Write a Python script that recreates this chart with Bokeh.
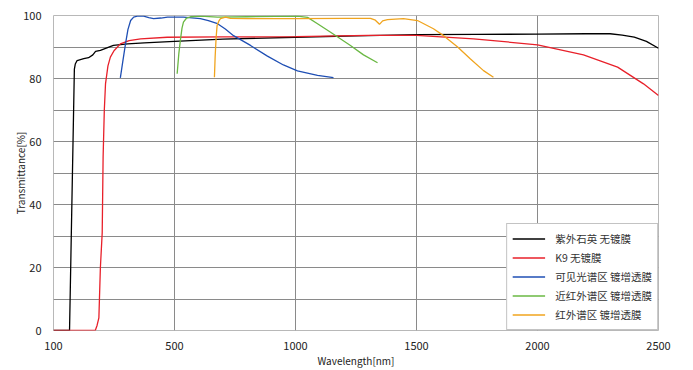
import numpy as np
from bokeh.plotting import figure
from bokeh.models import Range1d, FixedTicker, Legend, LegendItem
from bokeh.embed import file_html
from bokeh.resources import INLINE

FONT = "Noto Sans CJK SC"

x_tick_values = [100, 500, 1000, 1500, 2000, 2500]
x_tick_labels = ["100", "500", "1000", "1500", "2000", "2500"]
y_label_ticks = [0, 20, 40, 60, 80, 100]
y_minor_ticks = [10, 30, 50, 70, 90]

series_names = ["紫外石英 无镀膜", "K9 无镀膜", "可见光谱区 镀增透膜", "近红外谱区 镀增透膜", "红外谱区 镀增透膜"]
series_colors = ["#000000", "#e8202a", "#1f4fb4", "#6ab843", "#f0a41e"]

black_wl = [100, 153, 169, 172, 178, 200, 216, 230, 239, 255, 298, 345, 400, 500, 700, 1000, 1250, 1500, 1750, 2000, 2200, 2300, 2350, 2400, 2450, 2500]
black_T = [0, 0, 83, 84.6, 85.7, 86.3, 86.6, 87.5, 88.6, 88.9, 90.5, 91.0, 91.3, 91.8, 92.5, 93.1, 93.5, 93.9, 94.0, 94.1, 94.2, 94.2, 93.8, 93.1, 91.8, 89.6]

red_wl = [100, 238, 244, 250, 255, 261, 264, 268, 272, 280, 288, 300, 321, 350, 388, 476, 700, 1000, 1300, 1500, 1736, 2000, 2190, 2331, 2438, 2500]
red_T = [0, 0, 1.6, 4, 20, 31, 55, 70, 78.4, 84, 86.8, 88.8, 91.0, 92.0, 92.6, 93.1, 93.2, 93.3, 93.7, 93.7, 92.6, 90.7, 87.5, 83.6, 78.3, 74.6]

blue_wl = [321, 330, 338, 346, 355, 365, 377, 398, 415, 431, 455, 477, 537, 607, 640, 678, 710, 744, 814, 884, 950, 1008, 1091, 1157]
blue_T = [80.2, 86, 91, 95.5, 98.4, 99.5, 99.8, 99.8, 99.3, 99.0, 99.2, 99.5, 99.5, 99.0, 98.4, 97.4, 95.7, 93.6, 90.5, 87.1, 84.3, 82.4, 81.0, 80.3]

green_wl = [511, 518, 525, 531, 537, 550, 566, 607, 678, 800, 1008, 1050, 1091, 1145, 1227, 1281, 1339]
green_T = [81.5, 88, 92.6, 96, 97.9, 99.2, 99.6, 99.8, 99.5, 99.6, 99.8, 99.4, 97.4, 94.7, 90.5, 87.5, 85.0]

orange_wl = [665, 668, 672, 676, 683, 690, 711, 731, 800, 1000, 1200, 1310, 1330, 1347, 1360, 1380, 1446, 1504, 1570, 1612, 1670, 1723, 1777, 1818]
orange_T = [80.4, 87, 93, 96.8, 98.2, 99.0, 99.5, 99.1, 99.0, 99.0, 99.1, 99.1, 98.5, 97.2, 98.3, 98.7, 99.0, 98.4, 95.8, 93.6, 90.0, 86.2, 82.5, 80.4]


def tx(w):
    """Piecewise-linear wavelength axis: equal spacing between labelled ticks."""
    w = np.asarray(w, dtype=float)
    return np.interp(w, x_tick_values, np.arange(len(x_tick_values)))


p = figure(width=693, height=370, output_backend="svg", toolbar_location=None,
           x_range=Range1d(0, len(x_tick_values) - 1), y_range=Range1d(0, 100),
           min_border_left=53, min_border_right=35, min_border_top=15, min_border_bottom=40)
p.background_fill_color = "white"
p.border_fill_color = "white"
p.outline_line_color = "#b8b8b8"

p.xaxis.ticker = FixedTicker(ticks=list(range(len(x_tick_values))))
p.xaxis.major_label_overrides = {i: s for i, s in enumerate(x_tick_labels)}
p.yaxis.ticker = FixedTicker(ticks=y_label_ticks, minor_ticks=y_minor_ticks)
GRID = "#8a8a8a"
p.xgrid.grid_line_color = GRID
p.ygrid.grid_line_color = GRID
p.ygrid.minor_grid_line_color = GRID
p.xgrid.grid_line_width = 1
p.ygrid.grid_line_width = 1
p.ygrid.minor_grid_line_width = 1

for ax in (p.xaxis, p.yaxis):
    ax.axis_line_color = None
    ax.major_tick_line_color = None
    ax.minor_tick_line_color = None
    ax.major_label_text_font = FONT
    ax.major_label_text_font_size = "11px"
    ax.major_label_text_color = "#222222"
    ax.axis_label_text_font = FONT
    ax.axis_label_text_font_style = "normal"
    ax.axis_label_text_color = "#222222"

p.xaxis.axis_label = "Wavelength[nm]"
p.xaxis.axis_label_text_font_size = "10px"
p.xaxis.major_label_standoff = 5
p.xaxis.axis_label_standoff = 0
p.yaxis.axis_label = "Transmittance[%]"
p.yaxis.axis_label_text_font_size = "10px"
p.yaxis.major_label_standoff = 6
p.yaxis.axis_label_standoff = -8

data = [(black_wl, black_T), (red_wl, red_T), (blue_wl, blue_T), (green_wl, green_T), (orange_wl, orange_T)]
items = []
for (wl, T), name, col in zip(data, series_names, series_colors):
    r = p.line(tx(wl), T, line_color=col, line_width=1.3)
    items.append(LegendItem(label=name, renderers=[r]))

legend = Legend(items=items, location="bottom_right", margin=0, padding=5, spacing=0,
                glyph_width=33, glyph_height=19, label_height=19, label_standoff=10,
                label_text_font=FONT, label_text_font_size="10.5px", label_text_color="#333333",
                border_line_color="#888888", border_line_width=1,
                background_fill_color="white", background_fill_alpha=1.0)
p.add_layout(legend)

open("out.html", "w").write(file_html(p, INLINE))
